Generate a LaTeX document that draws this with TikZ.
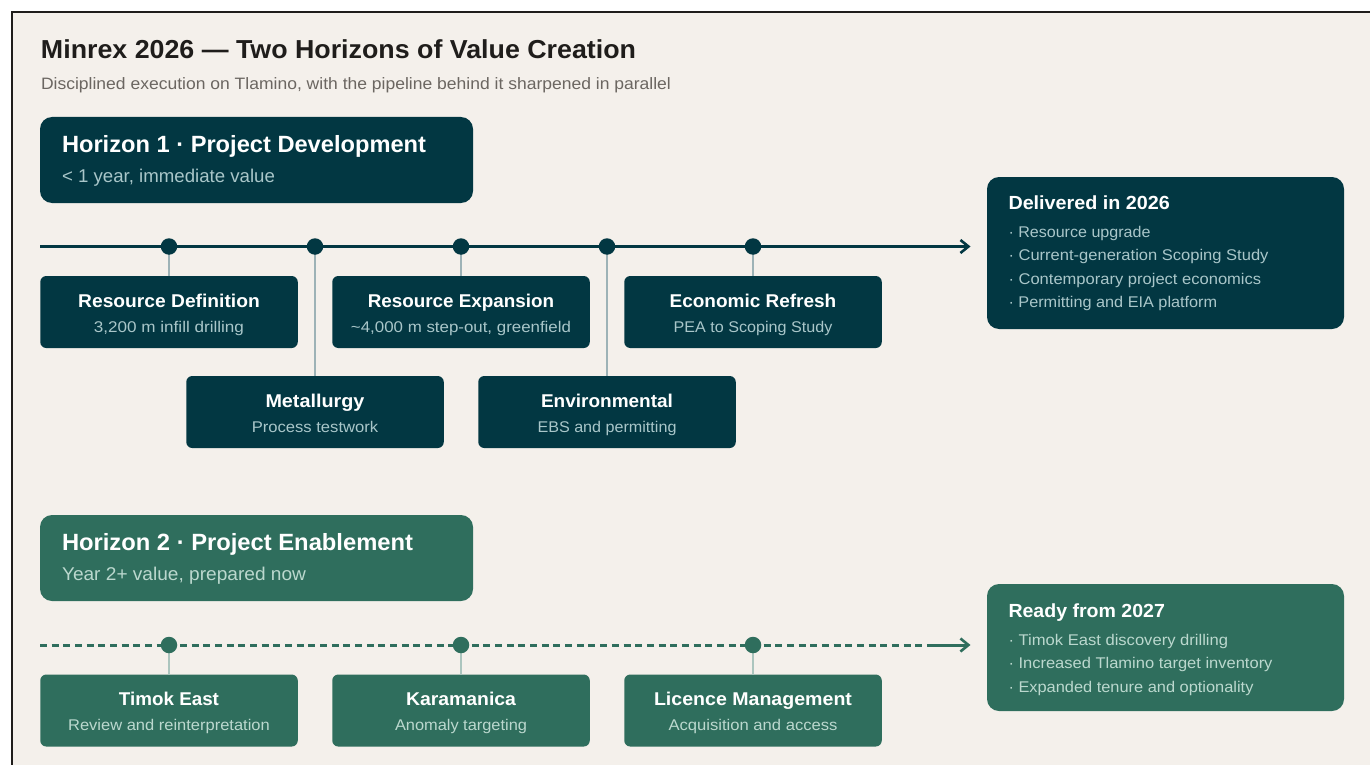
\documentclass[tikz,border=0pt]{standalone}
\usepackage{graphicx}
\usepackage{fontspec}
\setmainfont{Liberation Sans}
\usetikzlibrary{arrows.meta}
\definecolor{paper}{HTML}{F4F0EB}
\definecolor{ink}{HTML}{1F1D1B}
\definecolor{muted}{HTML}{6B6661}
\definecolor{teal}{HTML}{023742}
\definecolor{moss}{HTML}{2F6E5D}
\definecolor{tealsub}{HTML}{A9C6C9}
\definecolor{mosssub}{HTML}{BBD8CE}
\definecolor{tealstem}{HTML}{9DB2B6}
\definecolor{mossstem}{HTML}{ABC5BE}
\newcommand{\fs}[1]{\fontsize{#1}{#1}\selectfont}
\newcommand{\wt}[2]{\resizebox{#1pt}{\height}{#2}}
\tikzset{
  x=1pt,y=-1pt,
  card/.style={inner sep=0pt,outer sep=0pt,rounded corners=6pt,minimum width=#1},
  card/.default=257.5pt,
  txt/.style={inner sep=0pt,outer sep=0pt,anchor=base west},
  ctr/.style={inner sep=0pt,outer sep=0pt,anchor=base},
  dot/.style={circle,inner sep=0pt,outer sep=0pt,minimum size=16.5pt},
  stem/.style={line width=1.5pt},
  flow/.style={line width=3pt,line cap=butt,-{Straight Barb[length=8pt,width=13pt,line width=2.6pt]}},
  cardtitle/.style={ctr,text=white,font=\fs{18.5}\bfseries},
  cardsub/.style={ctr,font=\fs{15.5}},
  listline/.style={txt,font=\fs{15.5}},
}
% \stepcard{name}{colour}{subcolour}{stem colour}{dot}{cx}{top}{title}{sub}
\newcommand{\stepcard}[9]{%
  \node[card,fill=#2,minimum height=72pt,anchor=north] (#1) at (#6,#7) {};
  \node[cardtitle] (#1t) at (#6,#7+31) {#8};
  \node[cardsub,text=#3] (#1s) at (#6,#7+56) {#9};
  \draw[stem,#4] (#5) -- (#1.north);
  \node[dot,fill=#2] at (#5) {};
}
\begin{document}
\begin{tikzpicture}
\useasboundingbox (0,0) rectangle (1370,765);
\fill[white] (0,0) rectangle (1370,765);
\fill[paper] (12,12) rectangle (1370,765);
\coordinate (frameA) at (12,765);
\coordinate (frameB) at (12,12);
\coordinate (frameC) at (1370,12);
\draw[line width=1.3pt,ink] (frameA) -- (frameB) -- (frameC);

\node[txt,text=ink,font=\fs{26}\bfseries] (title) at (41,59) {\wt{595}{Minrex 2026 — Two Horizons of Value Creation}};
\node[txt,text=muted,font=\fs{16.5}] (subtitle) at (41,89.5) {\wt{630}{Disciplined execution on Tlamino, with the pipeline behind it sharpened in parallel}};

% Horizon 1
\node[card=433pt,fill=teal,minimum height=86pt,rounded corners=12pt,anchor=north west] (h1) at (40,117) {};
\node[txt,text=white,font=\fs{23.5}\bfseries] (h1t) at (62,152) {\wt{364}{Horizon 1 · Project Development}};
\node[txt,text=tealsub,font=\fs{18.5}] (h1s) at (62,182) {\wt{213}{< 1 year, immediate value}};

\coordinate (a0) at (40,246.5);
\coordinate (a1) at (970.5,246.5);
\coordinate (d1) at (169,246.5);
\coordinate (d2) at (315,246.5);
\coordinate (d3) at (461,246.5);
\coordinate (d4) at (607,246.5);
\coordinate (d5) at (753,246.5);
\draw[flow,teal] (a0) -- (a1);
\stepcard{s1}{teal}{tealsub}{tealstem}{d1}{169}{276}{\wt{181.5}{Resource Definition}}{\wt{150}{3,200 m infill drilling}}
\stepcard{s2}{teal}{tealsub}{tealstem}{d2}{315}{376}{\wt{99}{Metallurgy}}{\wt{126.5}{Process testwork}}
\stepcard{s3}{teal}{tealsub}{tealstem}{d3}{461}{276}{\wt{186.5}{Resource Expansion}}{\wt{220}{\textasciitilde4,000 m step-out, greenfield}}
\stepcard{s4}{teal}{tealsub}{tealstem}{d4}{607}{376}{\wt{132}{Environmental}}{\wt{139}{EBS and permitting}}
\stepcard{s5}{teal}{tealsub}{tealstem}{d5}{753}{276}{\wt{166.7}{Economic Refresh}}{\wt{158.7}{PEA to Scoping Study}}

\node[card=357pt,fill=teal,minimum height=152pt,rounded corners=12pt,anchor=north west] (r1) at (987,177) {};
\node[txt,text=white,font=\fs{19}\bfseries] (r1t) at (1008.5,209) {\wt{161.3}{Delivered in 2026}};
\node[listline,text=tealsub] (r1a) at (1008.5,237) {\wt{142}{· Resource upgrade}};
\node[listline,text=tealsub] (r1b) at (1008.5,260.5) {\wt{260}{· Current-generation Scoping Study}};
\node[listline,text=tealsub] (r1c) at (1008.5,284) {\wt{252.7}{· Contemporary project economics}};
\node[listline,text=tealsub] (r1d) at (1008.5,307) {\wt{208.7}{· Permitting and EIA platform}};

% Horizon 2
\node[card=433pt,fill=moss,minimum height=86pt,rounded corners=12pt,anchor=north west] (h2) at (40,515) {};
\node[txt,text=white,font=\fs{23.5}\bfseries] (h2t) at (62,550) {\wt{351}{Horizon 2 · Project Enablement}};
\node[txt,text=mosssub,font=\fs{18.5}] (h2s) at (62,580) {\wt{244}{Year 2+ value, prepared now}};

\coordinate (b0) at (40,645);
\coordinate (bm) at (928.5,645);
\coordinate (b1) at (970.5,645);
\coordinate (e1) at (169,645);
\coordinate (e2) at (461,645);
\coordinate (e3) at (753,645);
\draw[line width=3pt,moss,dash pattern=on 7pt off 4.67pt] (b0) -- (bm);
\draw[flow,moss] (bm) -- (b1);
\stepcard{t1}{moss}{mosssub}{mossstem}{e1}{169}{674.5}{\wt{100}{Timok East}}{\wt{201.7}{Review and reinterpretation}}
\stepcard{t2}{moss}{mosssub}{mossstem}{e2}{461}{674.5}{\wt{110}{Karamanica}}{\wt{132}{Anomaly targeting}}
\stepcard{t3}{moss}{mosssub}{mossstem}{e3}{753}{674.5}{\wt{198}{Licence Management}}{\wt{169}{Acquisition and access}}

\node[card=357pt,fill=moss,minimum height=127pt,rounded corners=12pt,anchor=north west] (r2) at (987,584) {};
\node[txt,text=white,font=\fs{19}\bfseries] (r2t) at (1008.5,617) {\wt{156.4}{Ready from 2027}};
\node[listline,text=mosssub] (r2a) at (1008.5,645) {\wt{219.6}{· Timok East discovery drilling}};
\node[listline,text=mosssub] (r2b) at (1008.5,668) {\wt{264}{· Increased Tlamino target inventory}};
\node[listline,text=mosssub] (r2c) at (1008.5,692) {\wt{245}{· Expanded tenure and optionality}};
\end{tikzpicture}
\end{document}
